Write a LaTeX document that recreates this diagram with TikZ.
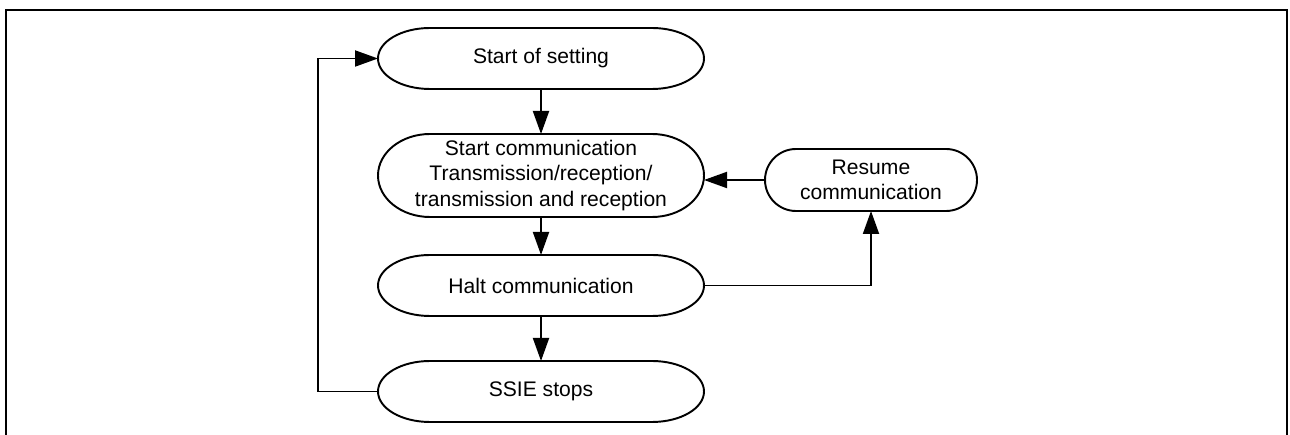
\documentclass[tikz,border=0pt]{standalone}
\usepackage{fontspec}
\setmainfont{Liberation Sans}
\usepackage{tikz}
\usetikzlibrary{arrows.meta, positioning}
\tikzset{
  stepbox/.style={
    rectangle, draw=none, align=center,
    font=\fontsize{12pt}{14.4pt}\selectfont,
    minimum width=6.52cm, minimum height=1.22cm,
    inner sep=1pt, outer sep=0pt
  },
  line/.style={draw=black, line width=1.1pt},
  arrow/.style={line, -{Triangle[length=0.46cm, width=0.32cm]}},
  frame/.style={draw=black, line width=1.5pt}
}

\begin{document}
\begin{tikzpicture}[node distance=0.9cm and 1.22cm]

  \useasboundingbox (0,0) rectangle (25.8,-8.7);
  \draw[frame] (0.12,-9) -- (0.12,-0.2) -- (25.74,-0.2) -- (25.74,-9);

  \node[stepbox] at (10.82,-1.17) (set) {Start of setting};
  \node[stepbox, below=of set, minimum height=1.66cm] (com) {Start communication\\Transmission/reception/\\transmission and reception};
  \node[stepbox, below=0.76cm of com] (halt) {Halt communication};
  \node[stepbox, below=of halt] (stop) {SSIE stops};
  \node[stepbox, right=of com, yshift=-0.09cm, minimum width=4.24cm, minimum height=1.24cm] (res) {Resume\\communication};

  % --- Contours arrondis ---
  \foreach \nd/\rx/\ry in {set/1.04/0.61, com/1.04/0.83, halt/1.04/0.61, stop/1.04/0.61, res/0.62/0.62}
    \draw[line] ([xshift=\rx cm]\nd.north west) -- ([xshift=-\rx cm]\nd.north east)
      arc[start angle=90, end angle=-90, x radius=\rx cm, y radius=\ry cm]
      -- ([xshift=\rx cm]\nd.south west)
      arc[start angle=270, end angle=90, x radius=\rx cm, y radius=\ry cm] -- cycle;

  % --- Connexions ---
  \draw[arrow] (set.south) -- (com.north);
  \draw[arrow] (com.south) -- (halt.north);
  \draw[arrow] (halt.south) -- (stop.north);
  \draw[arrow] (res.west) -- (res.west -| com.east);
  \draw[arrow] (halt.east) -| (res.south);
  \draw[arrow] (stop.west) -- ++(-1.2,0) |- (set.west);

\end{tikzpicture}
\end{document}
